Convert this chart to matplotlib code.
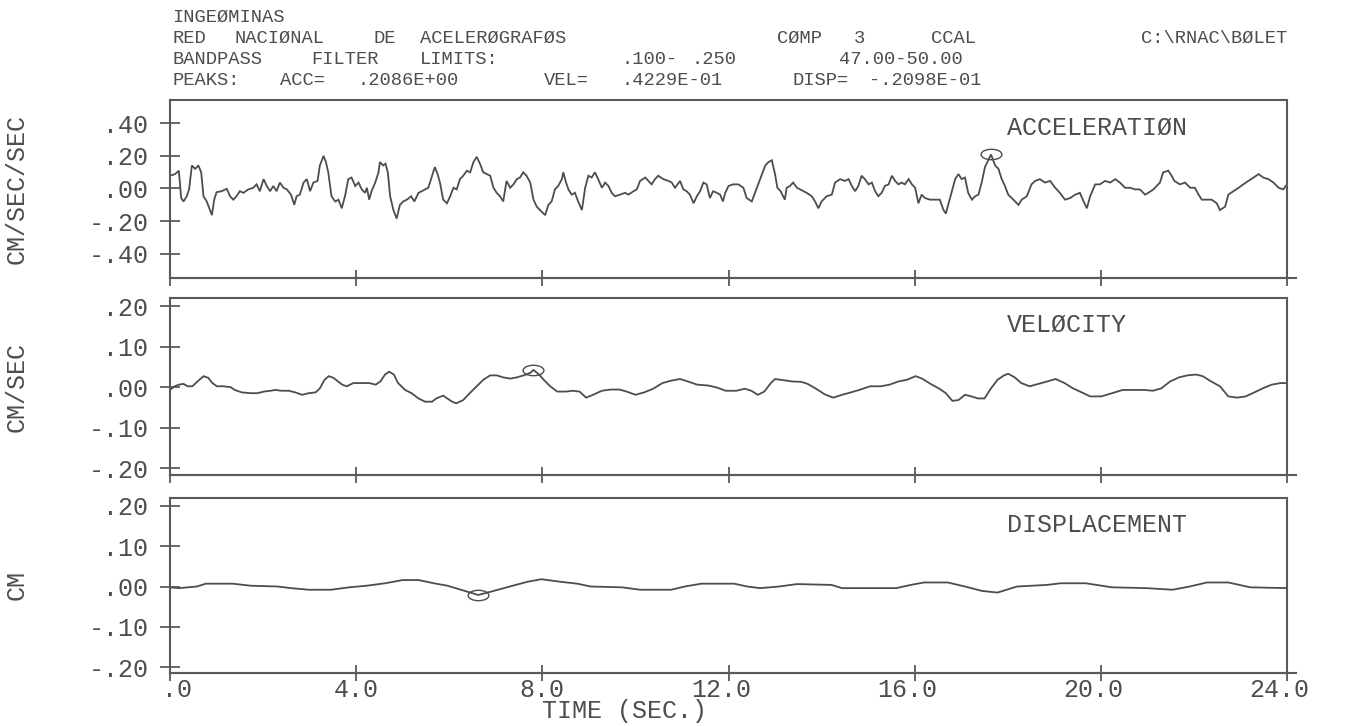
import matplotlib
matplotlib.use("Agg")
import matplotlib.pyplot as plt
from matplotlib import transforms
from matplotlib.lines import Line2D
from matplotlib.path import Path

# ---------------- data ----------------
acc_t = [0.00, 0.11, 0.19, 0.24, 0.29, 0.36, 0.41, 0.47, 0.54, 0.61, 0.67, 0.72, 0.79, 0.86, 0.90,
         0.95, 1.00, 1.11, 1.22, 1.29, 1.36, 1.43, 1.50, 1.58, 1.68, 1.79, 1.86, 1.93, 2.01, 2.08,
         2.15, 2.22, 2.29, 2.36, 2.44, 2.51, 2.60, 2.67, 2.72, 2.79, 2.87, 2.94, 3.01, 3.08, 3.17,
         3.22, 3.30, 3.35, 3.40, 3.47, 3.55, 3.62, 3.69, 3.76, 3.83, 3.90, 3.98, 4.05, 4.12, 4.19,
         4.23, 4.28, 4.33, 4.41, 4.48, 4.51, 4.58, 4.63, 4.68, 4.73, 4.80, 4.87, 4.94, 5.01, 5.09,
         5.18, 5.25, 5.34, 5.41, 5.48, 5.55, 5.62, 5.69, 5.75, 5.80, 5.87, 5.95, 6.02, 6.09, 6.16,
         6.23, 6.30, 6.38, 6.45, 6.52, 6.59, 6.66, 6.73, 6.81, 6.88, 6.95, 7.02, 7.09, 7.16, 7.23,
         7.31, 7.38, 7.45, 7.52, 7.59, 7.66, 7.74, 7.81, 7.88, 7.95, 8.06, 8.13, 8.20, 8.27, 8.34,
         8.42, 8.45, 8.51, 8.56, 8.63, 8.70, 8.77, 8.85, 8.92, 8.99, 9.06, 9.13, 9.20, 9.28, 9.35,
         9.42, 9.49, 9.56, 9.67, 9.78, 9.85, 9.96, 10.03, 10.10, 10.21, 10.28, 10.35, 10.42, 10.49,
         10.60, 10.71, 10.78, 10.85, 10.96, 11.03, 11.10, 11.17, 11.25, 11.32, 11.39, 11.46, 11.53,
         11.60, 11.67, 11.75, 11.82, 11.88, 11.93, 12.00, 12.10, 12.21, 12.32, 12.39, 12.50, 12.57,
         12.64, 12.71, 12.79, 12.86, 12.93, 13.00, 13.05, 13.12, 13.21, 13.25, 13.32, 13.39, 13.47,
         13.54, 13.61, 13.68, 13.79, 13.86, 13.93, 14.00, 14.11, 14.22, 14.29, 14.40, 14.50, 14.58,
         14.65, 14.72, 14.79, 14.86, 14.93, 15.01, 15.08, 15.15, 15.22, 15.29, 15.36, 15.44, 15.51,
         15.58, 15.65, 15.72, 15.79, 15.87, 15.94, 16.01, 16.08, 16.15, 16.22, 16.33, 16.44, 16.54,
         16.62, 16.67, 16.72, 16.80, 16.87, 16.94, 17.01, 17.08, 17.15, 17.23, 17.30, 17.37, 17.44,
         17.51, 17.58, 17.64, 17.73, 17.80, 17.87, 17.94, 18.01, 18.12, 18.23, 18.30, 18.41, 18.51,
         18.59, 18.69, 18.80, 18.91, 19.02, 19.12, 19.23, 19.34, 19.45, 19.55, 19.63, 19.70, 19.77,
         19.88, 19.98, 20.09, 20.20, 20.31, 20.41, 20.52, 20.63, 20.74, 20.84, 20.95, 21.02, 21.13,
         21.27, 21.34, 21.45, 21.52, 21.58, 21.70, 21.81, 21.92, 22.02, 22.10, 22.17, 22.28, 22.38,
         22.49, 22.56, 22.67, 22.74, 22.85, 22.96, 23.06, 23.17, 23.28, 23.39, 23.49, 23.60, 23.71,
         23.82, 23.92, 24.00]
acc_v = [0.078, 0.088, 0.109, -0.059, -0.080, -0.048, -0.006, 0.141, 0.120, 0.141, 0.099, -0.048,
         -0.080, -0.133, -0.164, -0.069, -0.023, -0.017, -0.002, -0.048, -0.069, -0.048, -0.017,
         -0.027, -0.006, 0.004, 0.025, -0.017, 0.057, 0.015, -0.017, 0.015, -0.017, 0.036, 0.004,
         -0.006, -0.038, -0.101, -0.048, -0.038, 0.036, 0.057, -0.017, 0.036, 0.046, 0.141, 0.200,
         0.162, 0.099, -0.048, -0.080, -0.069, -0.122, -0.048, 0.057, 0.067, 0.015, 0.036, -0.006,
         -0.027, 0.004, -0.069, -0.017, 0.036, 0.099, 0.162, 0.141, 0.152, 0.099, -0.048, -0.133,
         -0.185, -0.101, -0.080, -0.069, -0.048, -0.080, -0.027, -0.017, -0.006, 0.004, 0.067, 0.131,
         0.088, 0.036, -0.069, -0.091, -0.048, 0.004, -0.006, 0.057, 0.078, 0.109, 0.099, 0.162,
         0.194, 0.152, 0.099, 0.088, 0.078, 0.004, -0.027, -0.048, -0.080, 0.046, 0.004, 0.025,
         0.057, 0.067, 0.099, 0.078, 0.036, -0.069, -0.112, -0.133, -0.164, -0.101, -0.080, -0.006,
         0.015, 0.057, 0.099, 0.036, -0.006, -0.038, -0.027, -0.080, -0.133, 0.004, 0.078, 0.067,
         0.099, 0.057, 0.004, 0.036, 0.015, -0.027, -0.048, -0.038, -0.027, -0.038, -0.017, -0.006,
         0.046, 0.067, 0.046, 0.025, 0.057, 0.078, 0.057, 0.046, 0.036, 0.004, 0.046, -0.006,
         -0.017, -0.038, -0.091, -0.048, -0.017, 0.036, 0.025, -0.059, -0.017, -0.027, -0.038,
         -0.080, -0.027, 0.015, 0.025, 0.025, 0.004, -0.059, -0.080, -0.027, 0.025, 0.078, 0.141,
         0.162, 0.173, 0.088, 0.004, -0.017, -0.069, 0.004, 0.015, 0.036, 0.004, -0.006, -0.017,
         -0.027, -0.048, -0.080, -0.122, -0.080, -0.048, -0.038, 0.036, 0.057, 0.046, 0.057, 0.015,
         -0.017, 0.015, 0.078, 0.057, 0.025, 0.036, -0.017, -0.048, -0.027, 0.015, 0.025, 0.078,
         0.046, 0.025, 0.036, 0.025, 0.057, 0.025, 0.004, -0.091, -0.038, -0.059, -0.069, -0.069,
         -0.069, -0.133, -0.154, -0.101, -0.017, 0.057, 0.088, 0.057, 0.067, -0.027, -0.069, -0.048,
         -0.038, 0.036, 0.131, 0.173, 0.2086, 0.141, 0.120, 0.057, 0.015, -0.038, -0.069, -0.101,
         -0.069, -0.048, 0.025, 0.046, 0.057, 0.036, 0.046, 0.004, -0.027, -0.069, -0.059, -0.038,
         -0.027, -0.080, -0.122, -0.048, 0.025, 0.025, 0.046, 0.036, 0.057, 0.036, 0.004, 0.004,
         -0.006, -0.006, -0.038, -0.027, -0.006, 0.036, 0.099, 0.109, 0.078, 0.046, 0.025, 0.036,
         0.004, 0.004, -0.038, -0.069, -0.069, -0.069, -0.091, -0.133, -0.112, -0.038, -0.017,
         0.004, 0.025, 0.046, 0.067, 0.088, 0.067, 0.057, 0.036, 0.004, -0.006, 0.025]

vel_t = [0.00, 0.10, 0.19, 0.29, 0.38, 0.48, 0.63, 0.72, 0.82, 0.91, 1.01, 1.15, 1.30, 1.39, 1.54,
         1.73, 1.88, 2.02, 2.16, 2.26, 2.40, 2.55, 2.69, 2.84, 2.98, 3.13, 3.22, 3.32, 3.41, 3.51,
         3.61, 3.70, 3.80, 3.94, 4.13, 4.28, 4.42, 4.52, 4.62, 4.71, 4.81, 4.90, 5.05, 5.19, 5.34,
         5.48, 5.63, 5.72, 5.87, 5.96, 6.06, 6.15, 6.30, 6.44, 6.59, 6.73, 6.88, 7.02, 7.16, 7.31,
         7.45, 7.60, 7.74, 7.81, 7.93, 8.03, 8.17, 8.32, 8.51, 8.65, 8.80, 8.94, 9.09, 9.28, 9.47,
         9.66, 9.81, 10.00, 10.19, 10.38, 10.58, 10.77, 10.96, 11.15, 11.33, 11.56, 11.75, 11.94,
         12.17, 12.35, 12.49, 12.63, 12.77, 12.91, 13.00, 13.19, 13.37, 13.56, 13.70, 13.88, 14.07,
         14.25, 14.44, 14.63, 14.81, 15.04, 15.27, 15.46, 15.65, 15.83, 16.02, 16.16, 16.34, 16.53,
         16.67, 16.81, 16.94, 17.08, 17.22, 17.36, 17.50, 17.64, 17.78, 17.92, 18.01, 18.15, 18.29,
         18.47, 18.66, 18.85, 19.03, 19.22, 19.40, 19.59, 19.77, 20.01, 20.24, 20.47, 20.70, 20.93,
         21.12, 21.30, 21.49, 21.68, 21.86, 22.05, 22.19, 22.37, 22.56, 22.74, 22.93, 23.11, 23.30,
         23.48, 23.67, 23.86, 24.00]
vel_v = [-0.007, 0.002, 0.006, 0.008, 0.002, 0.002, 0.018, 0.027, 0.023, 0.010, 0.002, 0.002,
         0.000, -0.007, -0.013, -0.015, -0.015, -0.011, -0.009, -0.007, -0.009, -0.009, -0.013,
         -0.019, -0.015, -0.013, -0.003, 0.018, 0.027, 0.023, 0.014, 0.006, 0.002, 0.010, 0.010,
         0.010, 0.006, 0.014, 0.031, 0.038, 0.031, 0.010, -0.007, -0.015, -0.028, -0.036, -0.036,
         -0.028, -0.021, -0.028, -0.036, -0.040, -0.032, -0.015, 0.002, 0.018, 0.029, 0.029, 0.024,
         0.021, 0.024, 0.029, 0.035, 0.0423, 0.031, 0.018, 0.002, -0.011, -0.011, -0.009, -0.011,
         -0.026, -0.019, -0.009, -0.006, -0.006, -0.011, -0.019, -0.013, -0.004, 0.010, 0.016,
         0.020, 0.013, 0.006, 0.004, -0.001, -0.009, -0.009, -0.004, -0.009, -0.019, -0.011, 0.010,
         0.020, 0.017, 0.014, 0.013, 0.008, -0.004, -0.018, -0.026, -0.019, -0.013, -0.007, 0.002,
         0.002, 0.006, 0.014, 0.018, 0.027, 0.021, 0.008, -0.004, -0.015, -0.034, -0.032, -0.019,
         -0.023, -0.028, -0.028, -0.003, 0.018, 0.029, 0.033, 0.024, 0.010, 0.002, 0.008, 0.014,
         0.020, 0.010, -0.003, -0.013, -0.023, -0.023, -0.015, -0.007, -0.007, -0.007, -0.009,
         -0.003, 0.014, 0.024, 0.029, 0.031, 0.027, 0.014, 0.002, -0.023, -0.026, -0.023, -0.013,
         -0.003, 0.006, 0.010, 0.010]

dis_t = [0.00, 0.19, 0.58, 0.77, 1.35, 1.73, 2.31, 2.60, 2.98, 3.46, 3.85, 4.23, 4.62, 5.00, 5.34,
         5.67, 5.96, 6.25, 6.54, 6.62, 6.92, 7.30, 7.69, 7.98, 8.37, 8.75, 9.04, 9.71, 10.10, 10.77,
         11.06, 11.42, 11.52, 12.12, 12.40, 12.68, 13.09, 13.47, 14.21, 14.44, 15.60, 15.92, 16.20,
         16.71, 17.08, 17.45, 17.78, 18.20, 18.85, 19.13, 19.68, 20.24, 20.98, 21.54, 21.91, 22.28,
         22.74, 23.21, 24.00]
dis_v = [-0.002, -0.004, 0.000, 0.007, 0.007, 0.002, 0.000, -0.004, -0.008, -0.008, -0.002, 0.002,
         0.008, 0.016, 0.016, 0.008, 0.002, -0.008, -0.018, -0.021, -0.012, 0.000, 0.012, 0.018,
         0.012, 0.007, 0.000, -0.002, -0.008, -0.008, 0.000, 0.007, 0.007, 0.007, 0.000, -0.004,
         0.000, 0.006, 0.004, -0.004, -0.004, 0.004, 0.010, 0.010, 0.000, -0.011, -0.015, 0.000,
         0.004, 0.008, 0.008, -0.002, -0.004, -0.008, 0.000, 0.010, 0.010, -0.002, -0.004]

acc_peak = (17.64, 0.2086)
vel_peak = (7.81, 0.0423)
dis_peak = (6.62, -0.02098)

x_ticks = [0, 4, 8, 12, 16, 20, 24]
x_tick_labels = [".0", "4.0", "8.0", "12.0", "16.0", "20.0", "24.0"]
acc_yticks = [0.40, 0.20, 0.0, -0.20, -0.40]
acc_yticklabels = [".40", ".20", ".00", "-.20", "-.40"]
vel_yticks = [0.20, 0.10, 0.0, -0.10, -0.20]
vel_yticklabels = [".20", ".10", ".00", "-.10", "-.20"]
dis_yticks = [0.20, 0.10, 0.0, -0.10, -0.20]
dis_yticklabels = [".20", ".10", ".00", "-.10", "-.20"]

panel_titles = ["ACCELERATIØN", "VELØCITY", "DISPLACEMENT"]
y_labels = ["CM/SEC/SEC", "CM/SEC", "CM"]
x_label = "TIME (SEC.)"

# header lines: words and the character column (plotter grid) where each word starts
header_lines = [
    [("INGEØMINAS", 0)],
    [("RED", 0), ("NACIØNAL", 4), ("DE", 13), ("ACELERØGRAFØS", 16), ("CØMP", 39), ("3", 44),
     ("CCAL", 49), ("C:\\RNAC\\BØLET", 62.5)],
    [("BANDPASS", 0), ("FILTER", 9), ("LIMITS:", 16), (".100-", 29), (".250", 33.5),
     ("47.00-50.00", 43)],
    [("PEAKS:", 0), ("ACC=", 7), (".2086E+00", 12), ("VEL=", 24), (".4229E-01", 29),
     ("DISP=", 40), ("-.2098E-01", 45)],
]

# ---------------- style ----------------
W, H = 1357, 726
FONT = "Liberation Mono"
FS = 18
FS_HEAD = 13.5
INK = "#4d4d4d"
AXC = "#5a5a5a"
HEAD_X0, HEAD_PITCH = 172, 15.5
HEAD_Y = [17, 38.5, 59.5, 80.5]

fig = plt.figure(figsize=(W / 100, H / 100), dpi=100)
fig.patch.set_facecolor("white")


def add_ax(left, right, top, bottom):
    return fig.add_axes([left / W, 1 - bottom / H, (right - left) / W, (bottom - top) / H])


axA = add_ax(170, 1287, 100, 278)
axA.set_ylim(-0.550, 0.543)
axV = add_ax(170, 1287, 298, 475)
axV.set_ylim(-0.217, 0.220)
axD = add_ax(170, 1287, 498, 673)
axD.set_ylim(-0.214, 0.219)

ellipse = Path.unit_circle().transformed(matplotlib.transforms.Affine2D().scale(1.0, 0.5))

series = [(axA, acc_t, acc_v, acc_peak, acc_yticks, acc_yticklabels),
          (axV, vel_t, vel_v, vel_peak, vel_yticks, vel_yticklabels),
          (axD, dis_t, dis_v, dis_peak, dis_yticks, dis_yticklabels)]

title_y = [0.843, 0.847, 0.846]

for i, (ax, t, v, pk, yt, ytl) in enumerate(series):
    ax.plot(t, v, color=INK, lw=1.3, solid_joinstyle="miter")
    ax.plot([pk[0]], [pk[1]], marker=ellipse, ms=15, mfc="none", mec=INK, mew=1.0, ls="none")
    ax.set_xlim(0, 24)
    for s in ax.spines.values():
        s.set_color(AXC)
        s.set_linewidth(1.5)
    ax.set_xticks(x_ticks)
    ax.set_xticklabels([])
    ax.set_yticks(yt)
    ax.set_yticklabels(ytl, fontfamily=FONT, fontsize=FS, color=INK)
    ax.tick_params(axis="y", direction="inout", length=15, width=1.3, color=AXC, pad=8)
    ax.tick_params(axis="x", direction="inout", length=11, width=1.3, color=AXC)
    ax.text(0.749, title_y[i], panel_titles[i], transform=ax.transAxes, ha="left", va="center",
            fontfamily=FONT, fontsize=FS, color=INK)
    ax.add_line(Line2D([0.0, 1.008], [0, 0], transform=ax.transAxes, color=AXC, lw=1.5,
                       clip_on=False))
    ax.text(-0.137, 0.5, y_labels[i], transform=ax.transAxes, rotation=90, ha="center",
            va="center", fontfamily=FONT, fontsize=FS, color=INK)

# bottom x tick labels: decimal point aligned on the tick
pitch_pt = 0.6 * FS
for xt, lab in zip(x_ticks, x_tick_labels):
    k = lab.index(".")
    dx = (len(lab) / 2 - k - 0.5) * pitch_pt
    tr = transforms.offset_copy(axD.get_xaxis_transform(), fig=fig, x=dx, y=-12, units="points")
    axD.text(xt, 0, lab, transform=tr, ha="center", va="center", fontfamily=FONT, fontsize=FS,
             color=INK)

fig.text(624 / W, 1 - 711 / H, x_label, ha="center", va="center", fontfamily=FONT,
         fontsize=FS, color=INK)

for line, y in zip(header_lines, HEAD_Y):
    for word, col in line:
        fig.text((HEAD_X0 + col * HEAD_PITCH) / W, 1 - y / H, word, ha="left", va="center",
                 fontfamily=FONT, fontsize=FS_HEAD, color=INK)

fig.savefig("out.png", dpi=100, facecolor="white")
